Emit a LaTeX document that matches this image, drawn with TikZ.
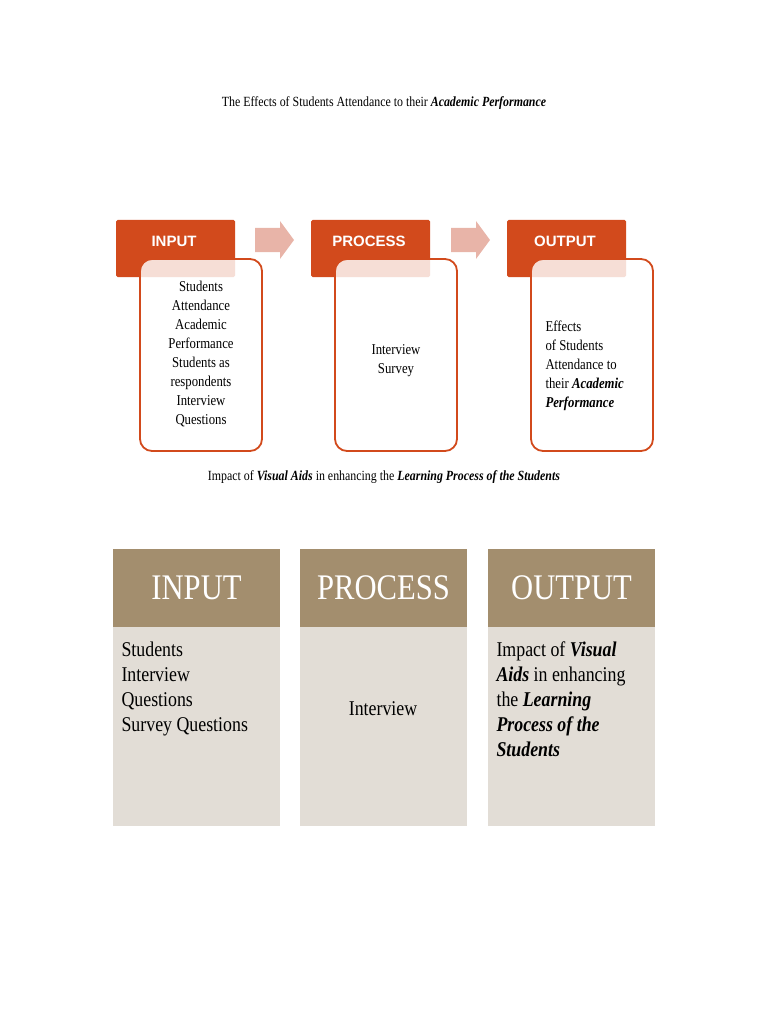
\documentclass[tikz,border=0pt]{standalone}
\usepackage{fontspec}
\setmainfont{Liberation Serif}
\newfontfamily\cond[FakeStretch=0.85]{Liberation Serif}
\newfontfamily\hsans{Liberation Sans}
\definecolor{orng}{HTML}{D24A1C}
\definecolor{pinkar}{HTML}{E8B4A8}
\definecolor{tan}{HTML}{A38E6E}
\definecolor{beige}{HTML}{E2DDD6}
\begin{document}
\begin{tikzpicture}[x=1pt,y=-1pt,
  hdr/.style={fill=orng,draw=none,rounded corners=1.5pt},
  wbox/.style={draw=orng,line width=1.8pt,fill=white,fill opacity=0.82,rounded corners=12pt},
  hlab/.style={font=\hsans\bfseries\fontsize{15}{15}\selectfont,text=white},
  tx/.style={font=\cond\fontsize{15}{19}\selectfont,align=center},
  arr/.style={fill=pinkar,draw=none},
  bh/.style={fill=tan,draw=none},
  bb/.style={fill=beige,draw=none},
  bl/.style={font=\cond\fontsize{36}{36}\selectfont,text=white},
  btx/.style={font=\cond\fontsize{21}{25}\selectfont,align=left}]
\useasboundingbox (0,0) rectangle (768,1024);
\node[font=\cond\fontsize{14}{14}\selectfont] (t1) at (384,103) {The Effects of Students Attendance to their \textbf{\textit{Academic Performance}}};
% top headers
\foreach \n/\x/\lab in {a/116/INPUT,b/311/PROCESS,c/507/OUTPUT}{
  \fill[orng,rounded corners=1.5pt] (\x,220) rectangle ++(119,57);
  \draw[wbox] (\x+24,259) rectangle ++(122,192);
  \node[hlab] (h\n) at (\x+58,241) {\lab};
}
\fill[arr] (255,228) -- (280,228) -- (280,221) -- (294,240) -- (280,259) -- (280,252) -- (255,252) -- cycle;
\fill[arr] (451,228) -- (476,228) -- (476,221) -- (490,240) -- (476,259) -- (476,252) -- (451,252) -- cycle;
\node[tx] (ia) at (201,354) {Students\\Attendance\\Academic\\Performance\\Students as\\respondents\\Interview\\Questions};
\node[tx] (ib) at (396,361) {Interview\\Survey};
\node[tx,align=left,anchor=west] (ic) at (542,366) {Effects\\of Students\\Attendance to\\their \textbf{\textit{Academic}}\\\textbf{\textit{Performance}}};
\node[font=\cond\fontsize{14}{14}\selectfont] (t2) at (384,477) {Impact of \textbf{\textit{Visual Aids}} in enhancing the \textbf{\textit{Learning Process of the Students}}};
% bottom
\foreach \n/\x/\lab in {a/113/INPUT,b/300/PROCESS,c/488/OUTPUT}{
  \fill[bh] (\x,549) rectangle ++(167,78);
  \fill[bb] (\x,627) rectangle ++(167,199);
  \node[bl] (b\n) at (\x+83.5,588) {\lab};
}
\node[btx,anchor=north west] (ba) at (118,638) {Students\\Interview\\Questions\\Survey Questions};
\node[btx] (bbx) at (383,709) {Interview};
\node[btx,anchor=north west] (bc) at (493,638) {Impact of \textbf{\textit{Visual}}\\\textbf{\textit{Aids}} in enhancing\\the \textbf{\textit{Learning}}\\\textbf{\textit{Process of the}}\\\textbf{\textit{Students}}};
\end{tikzpicture}
\end{document}
